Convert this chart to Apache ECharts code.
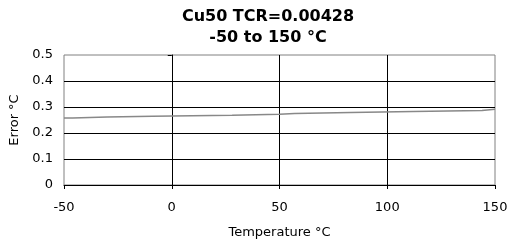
<!DOCTYPE html>
<html>
<head>
<meta charset="utf-8">
<script src="https://cdn.jsdelivr.net/npm/echarts@6/dist/echarts.min.js"></script>
<style>
  html, body { margin: 0; padding: 0; background: #fff; }
  #chart { width: 515px; height: 244px; }
</style>
</head>
<body>
<div id="chart"></div>
<script>
const titleLines = ['Cu50 TCR=0.00428', '-50 to 150 °C'];
const temps = [-50, -46, -30, -9, 28, 50, 57, 83, 112, 144, 150];
const errors = [0.258, 0.262, 0.264, 0.268, 0.272, 0.275, 0.279, 0.283, 0.287, 0.291, 0.291];

const font = 'DejaVu Sans';
const chart = echarts.init(document.getElementById('chart'));
chart.setOption({
  animation: false,
  textStyle: { fontFamily: font },
  title: {
    text: titleLines.join('\n'),
    left: 263,
    textAlign: 'center',
    top: 1,
    textStyle: { fontFamily: font, fontSize: 16, fontWeight: 'bold', color: '#000', lineHeight: 21 }
  },
  grid: {
    left: 64, right: 20, top: 55, bottom: 59,
    show: true, borderColor: '#808080', borderWidth: 1, backgroundColor: 'transparent'
  },
  xAxis: {
    type: 'value',
    min: -50, max: 150, interval: 50,
    name: 'Temperature °C',
    nameLocation: 'middle',
    nameGap: 41,
    nameTextStyle: { fontFamily: font, fontSize: 13, color: '#000' },
    axisLine: { show: true, onZero: false, lineStyle: { color: '#000', width: 1 } },
    axisTick: { show: true, length: 4, lineStyle: { color: '#000' } },
    axisLabel: { fontFamily: font, fontSize: 13, color: '#000', margin: 16 },
    splitLine: { show: true, showMinLine: false, showMaxLine: false, lineStyle: { color: '#000', width: 1 } }
  },
  yAxis: {
    type: 'value',
    min: 0, max: 0.5, interval: 0.1,
    name: 'Error °C',
    nameLocation: 'middle',
    nameGap: 24,
    nameTextStyle: { fontFamily: font, fontSize: 13, color: '#000' },
    axisLine: { show: true, lineStyle: { color: '#000', width: 1 } },
    axisTick: { show: true, length: 4, lineStyle: { color: '#000' } },
    axisLabel: { fontFamily: font, fontSize: 13, color: '#000', margin: 11 },
    splitLine: { show: true, showMinLine: false, showMaxLine: false, lineStyle: { color: '#000', width: 1 } }
  },
  series: [{
    type: 'line',
    step: 'end',
    data: temps.map((t, i) => [t, errors[i]]),
    showSymbol: false,
    lineStyle: { color: '#888', width: 1.5 }
  }]
});
</script>
</body>
</html>
